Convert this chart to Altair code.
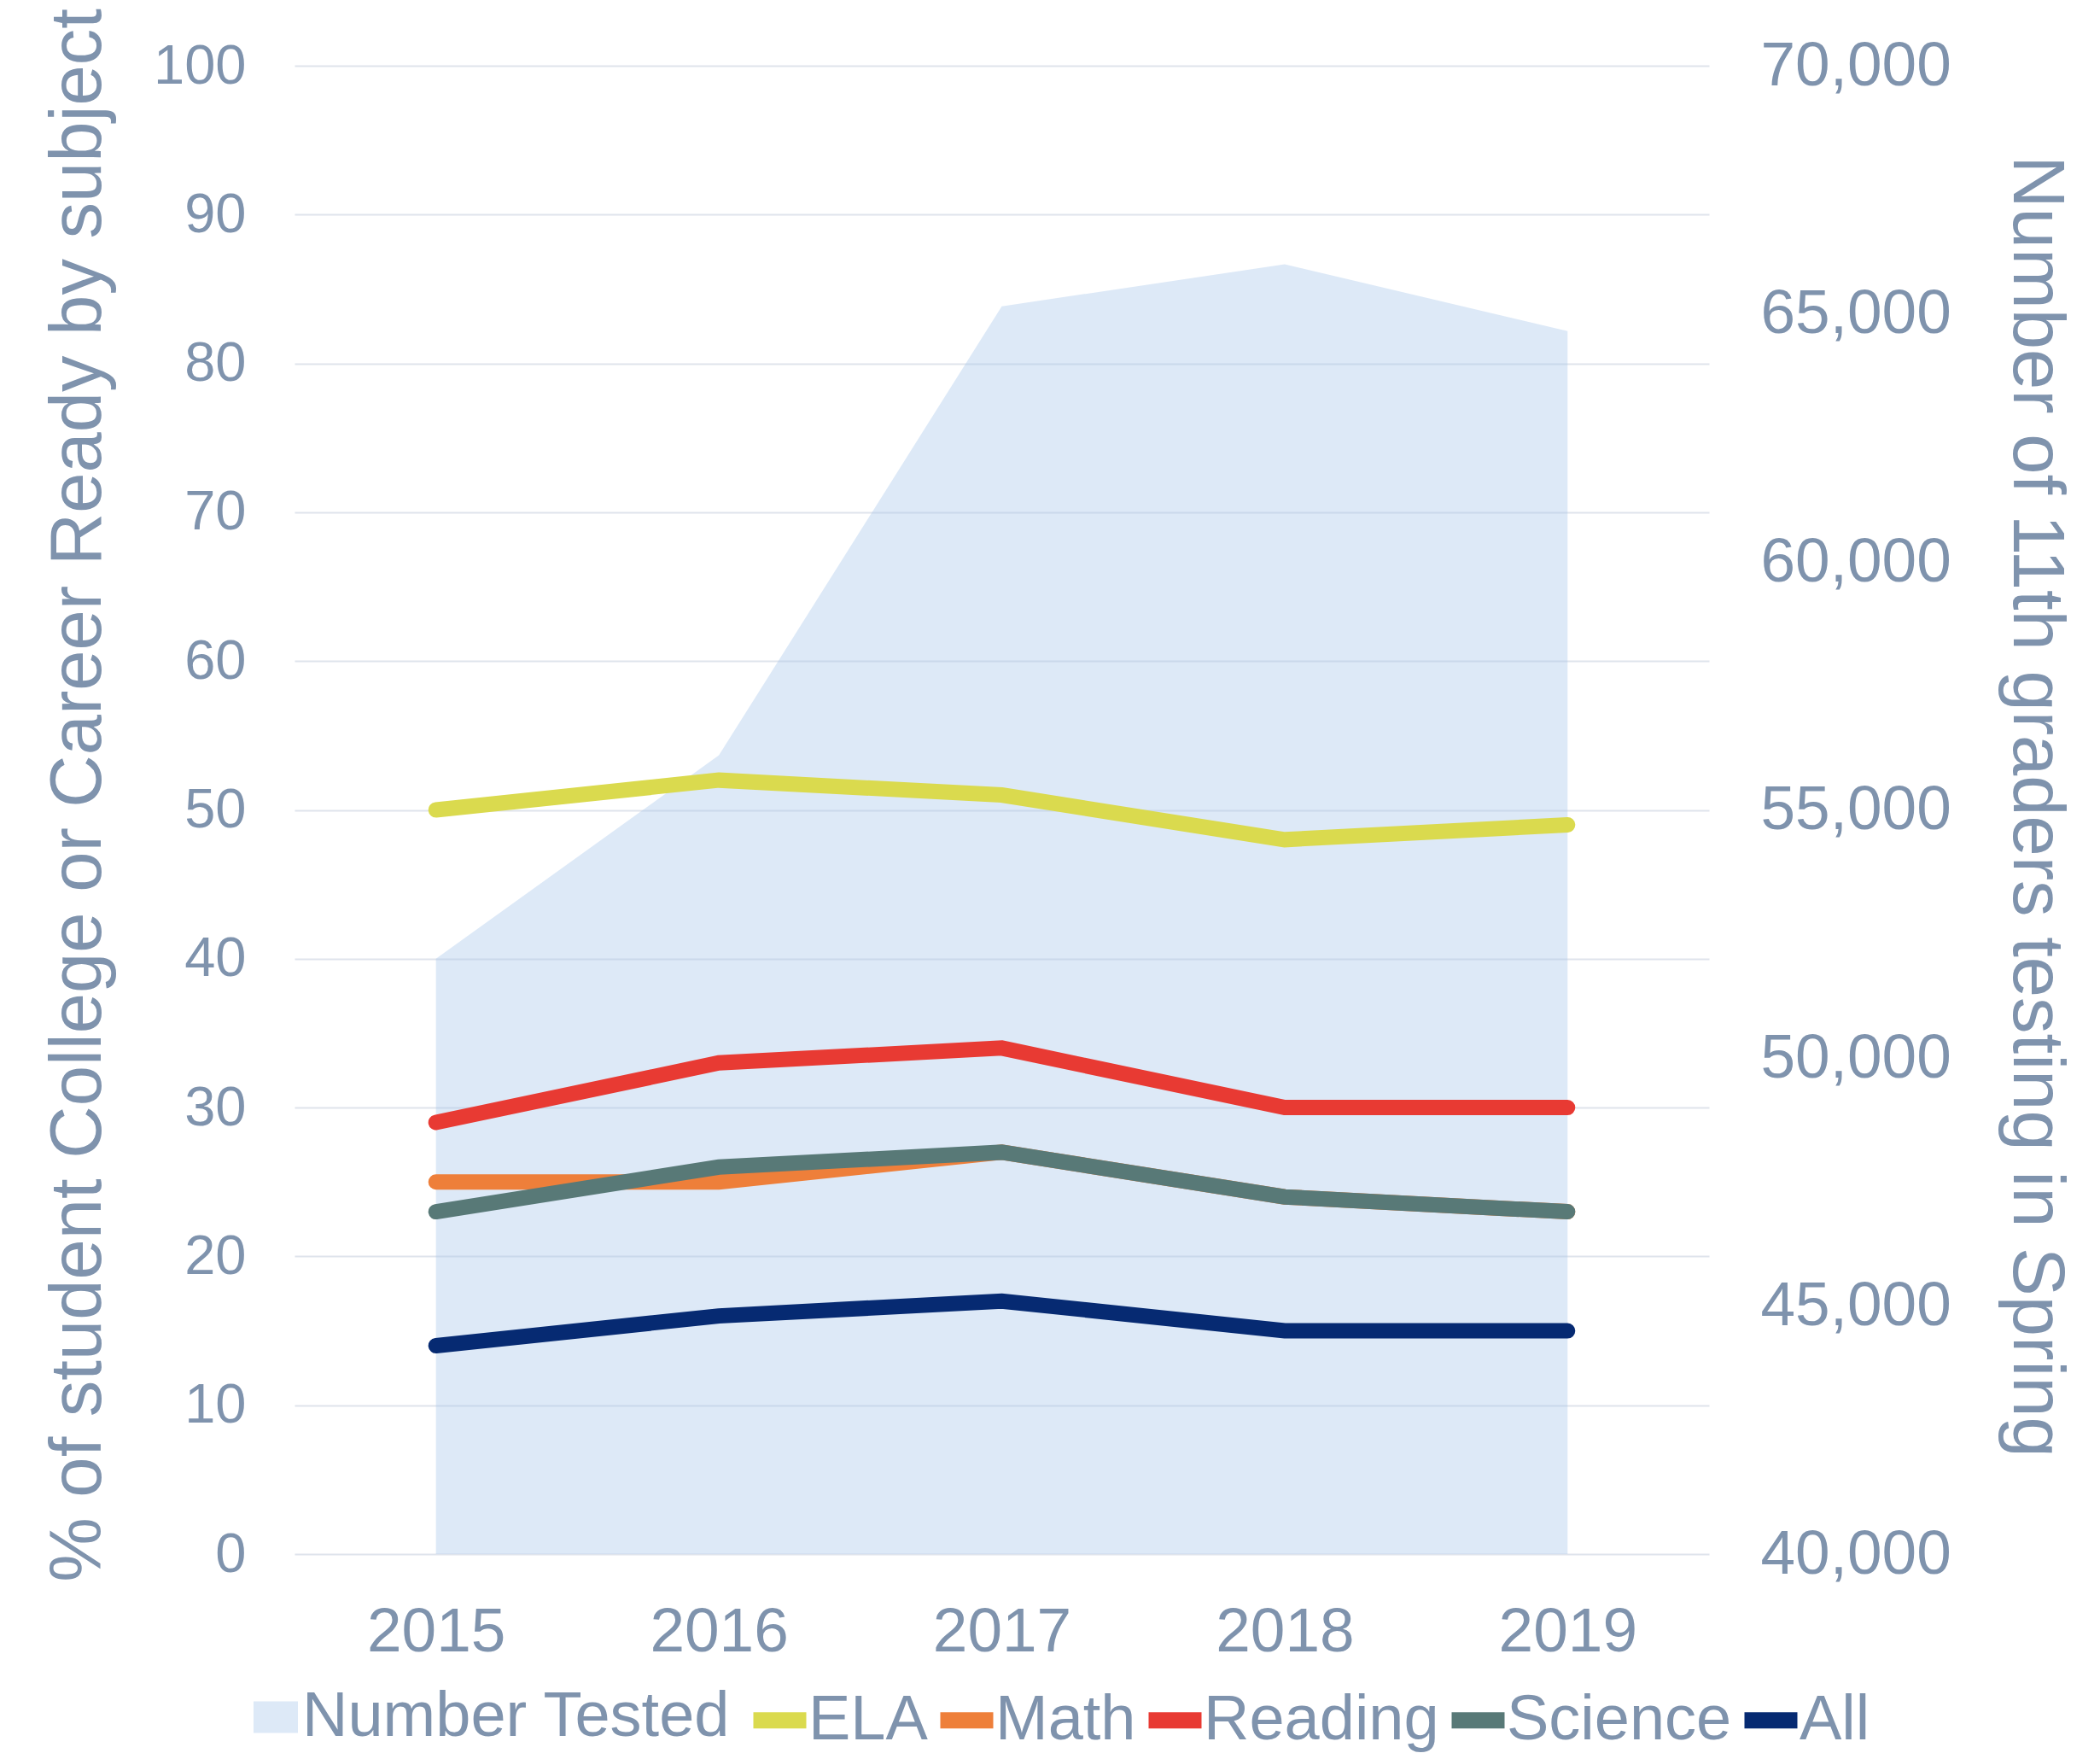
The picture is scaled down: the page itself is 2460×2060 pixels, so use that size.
import altair as alt
import pandas as pd

years = ["2015", "2016", "2017", "2018", "2019"]
number_tested = [52000, 56100, 65150, 66000, 64650]
ela = [50, 52, 51, 48, 49]
math = [25, 25, 27, 24, 23]
reading = [29, 33, 34, 30, 30]
science = [23, 26, 27, 24, 23]
all_students = [14, 16, 17, 15, 15]

series_names = ["ELA", "Math", "Reading", "Science", "All"]
series_values = [ela, math, reading, science, all_students]
series_colors = ["#DADA4E", "#EE7F3A", "#E83A33", "#587977", "#062A72"]
area_name = "Number Tested"
area_color = "#A9C8EA"

pct_ticks = list(range(0, 101, 10))
count_ticks = [40000, 45000, 50000, 55000, 60000, 65000, 70000]

TEXT = "#7F93AD"
FONT = "Liberation Sans"

area_df = pd.DataFrame({"year": years, "count": number_tested, "series": area_name})
rows = []
for name, vals in zip(series_names, series_values):
    for yr, v in zip(years, vals):
        rows.append({"year": yr, "pct": v, "series": name})
line_df = pd.DataFrame(rows)

x_axis = alt.Axis(title=None, labelAngle=0, labelFontSize=73, labelPadding=55,
                  ticks=False, domain=False, grid=False, labelColor=TEXT, labelFont=FONT)
x_enc = alt.X("year:O", scale=alt.Scale(type="point", padding=0.5), axis=x_axis)

area = alt.Chart(area_df).mark_area(opacity=0.4, clip=True).encode(
    x=x_enc,
    y=alt.Y("count:Q",
            scale=alt.Scale(domain=[count_ticks[0], count_ticks[-1]], zero=False, nice=False),
            axis=alt.Axis(orient="right", values=count_ticks,
                          labelExpr="format(datum.value, ',')", labelLimit=1000,
                          grid=False, ticks=False, domain=False, labelFontSize=73,
                          labelPadding=60, labelColor=TEXT, labelFont=FONT,
                          title="Number of 11th graders testing in Spring",
                          titleFontSize=85, titleFontWeight="normal", titleColor=TEXT,
                          titleFont=FONT, titleAngle=90, titleX=356, titleY=867,
                          titleBaseline="alphabetic", titleAlign="center",
                          titleLimit=3000)),
    fill=alt.Fill("series:N",
                  scale=alt.Scale(domain=[area_name], range=[area_color]),
                  legend=alt.Legend(title=None, orient="none", legendX=-59, legendY=1897,
                                    direction="horizontal", padding=0,
                                    symbolType="M-1,-0.71L1,-0.71L1,0.71L-1,0.71Z",
                                    symbolSize=2704, symbolStrokeWidth=0,
                                    labelFontSize=74, labelColor=TEXT, labelFont=FONT,
                                    labelOffset={"expr": "-6"}, labelLimit=3000)),
)

lines = alt.Chart(line_df).mark_line(strokeWidth=18, strokeCap="round").encode(
    x=x_enc,
    y=alt.Y("pct:Q",
            scale=alt.Scale(domain=[pct_ticks[0], pct_ticks[-1]], nice=False),
            axis=alt.Axis(orient="left", values=pct_ticks, grid=True, gridColor="#DFE4EC",
                          gridWidth=2, ticks=False, domain=False, labelFontSize=65,
                          labelPadding=57, labelColor=TEXT, labelFont=FONT,
                          title="% of student College or Career Ready by subject",
                          titleFontSize=85, titleFontWeight="normal", titleColor=TEXT,
                          titleFont=FONT, titleAngle=270, titleX=-228, titleY=854,
                          titleBaseline="alphabetic", titleAlign="center",
                          titleLimit=3000)),
    stroke=alt.Stroke("series:N",
                      scale=alt.Scale(domain=series_names, range=series_colors),
                      sort=series_names,
                      legend=alt.Legend(title=None, orient="none", legendX=528, legendY=1897,
                                        direction="horizontal", padding=0,
                                        symbolType="stroke",
                                        symbolSize=3844, symbolStrokeWidth=19,
                                        labelFontSize=74, labelColor=TEXT, labelFont=FONT,
                                        labelOffset={"expr": "-7"},
                                        columnPadding={"expr": "-24"}, labelLimit=3000)),
)

chart = alt.layer(area, lines).resolve_scale(y="independent").properties(
    width=1657, height=1743,
    padding={"left": 337, "top": 69, "right": 450, "bottom": 232},
    autosize=alt.AutoSizeParams(type="none"),
    background="white",
).configure_view(stroke=None)

chart.save("out.html", embed_options={"renderer": "svg", "actions": False})
